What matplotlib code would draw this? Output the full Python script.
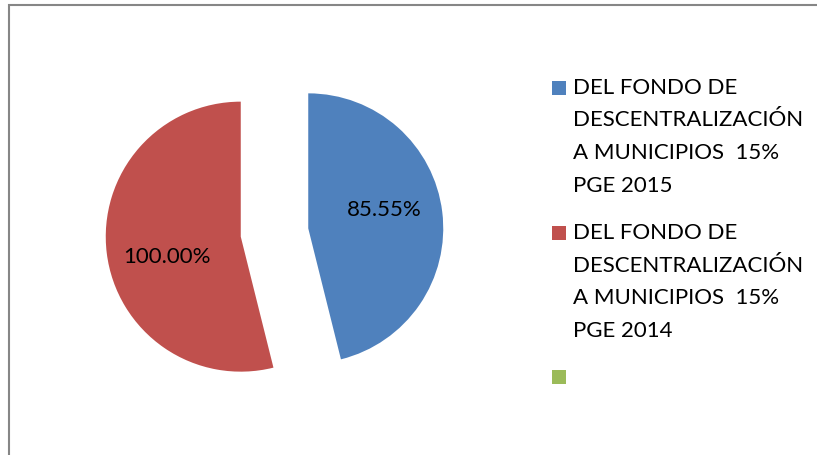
import matplotlib
matplotlib.use('Agg')
import matplotlib.pyplot as plt
from matplotlib.patches import Rectangle

# data
labels = ['DEL FONDO DE\nDESCENTRALIZACIÓN\nA MUNICIPIOS  15%\nPGE 2015',
          'DEL FONDO DE\nDESCENTRALIZACIÓN\nA MUNICIPIOS  15%\nPGE 2014',
          '']
values = [85.55, 100.00]
value_labels = ['85.55%', '100.00%']
colors = ['#4F81BD', '#C0504D', '#9BBB59']

plt.rcParams['font.family'] = ['Lato', 'DejaVu Sans']

W, H = 817, 455
fig = plt.figure(figsize=(W / 100, H / 100), dpi=100)
ax = fig.add_axes([0, 0, 1, 1])

# chart frame (only left and top edges visible)
ax.add_patch(Rectangle((9, -10), W + 20, H - 5 + 10, fill=False,
                       edgecolor='#868686', linewidth=1.5))

# pie: both slices pulled out, clockwise from 12 o'clock
radius = 135
wedges, _ = ax.pie(values, colors=colors[:2], startangle=90, counterclock=False,
                   explode=[34, 34], radius=radius, center=(274.5, H - 232.5),
                   frame=True)
ax.set_xlim(0, W)
ax.set_ylim(0, H)
ax.axis('off')

# value labels
ax.text(384, H - 210, value_labels[0], fontsize=16, ha='center', va='center')
ax.text(167, H - 257, value_labels[1], fontsize=16, ha='center', va='center')

# legend, drawn by hand to match the spacing
entry_top = [87.7, 232.7, 377]
for lab, col, y in zip(labels, colors, entry_top):
    ax.add_patch(Rectangle((552, H - y - 7), 14, 14, facecolor=col, edgecolor='none'))
    if lab:
        ax.text(573, H - y + 10, lab, fontsize=16, ha='left', va='top',
                linespacing=1.8)

fig.savefig('out.png', dpi=100)
